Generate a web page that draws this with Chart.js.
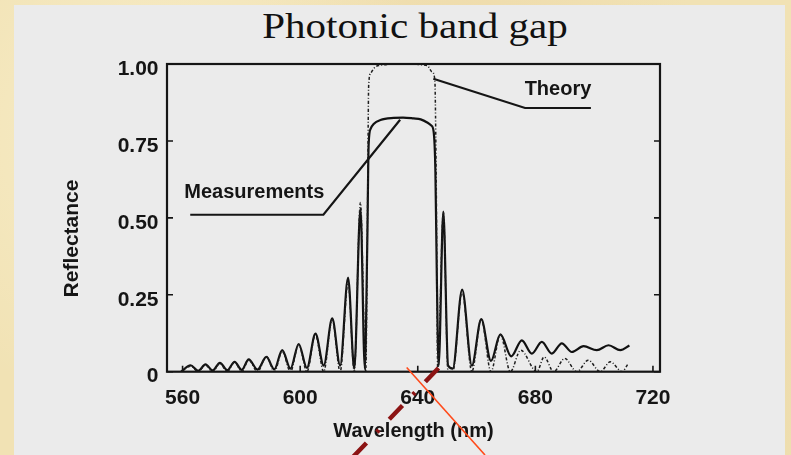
<!DOCTYPE html>
<html>
<head>
<meta charset="utf-8">
<script src="https://cdn.jsdelivr.net/npm/chart.js@4.4.0/dist/chart.umd.min.js"></script>
<style>
  html, body { margin: 0; padding: 0; }
  body {
    width: 791px; height: 455px; overflow: hidden; position: relative;
    background-color: #f1e2b4;
    background-image:
      radial-gradient(circle at 20% 30%, rgba(255,248,220,0.5) 0, rgba(255,248,220,0) 40%),
      radial-gradient(circle at 80% 70%, rgba(220,195,140,0.35) 0, rgba(220,195,140,0) 45%),
      radial-gradient(circle at 60% 10%, rgba(235,210,160,0.4) 0, rgba(235,210,160,0) 35%);
  }
  #panel {
    position: absolute; left: 14px; top: 5px; width: 771px; height: 460px;
    background: #ebebeb;
  }
  #title {
    position: absolute; left: 215px; top: 8px; width: 400px;
    text-align: center; font-family: "Liberation Serif", "DejaVu Serif", serif;
    font-size: 36px; line-height: 36px; color: #111;
    transform: scaleX(1.14); transform-origin: center;
  }
  canvas { position: absolute; left: 0; top: 0; }
</style>
</head>
<body>
<div id="panel"></div>
<div id="title">Photonic band gap</div>
<canvas id="bandChart" width="791" height="455"></canvas>
<script>
// Measured reflectance (solid line)
const measWavelength = [
  559.5, 562.7, 565.3, 567.8, 570.2, 572.7, 575.2, 577.7, 580.1, 582.5,
  585.5, 588.5, 591.2, 593.9, 596.7, 599.5, 602.3, 605.2, 608.0, 610.9,
  613.6, 616.3, 618.4, 620.5, 622.0, 622.8, 623.3, 624.0, 625.0, 627.3,
  631.8, 635.0, 638.6, 641.0, 643.2, 644.6, 645.4, 646.0, 646.5, 647.1,
  648.7, 650.3, 651.9, 655.1, 658.4, 661.6, 664.9, 668.1, 671.8, 675.4,
  678.8, 682.2, 685.6, 689.0, 692.4, 696.4, 700.9, 704.9, 708.9, 712.0
];
const measReflectance = [
  0.0, 0.021, 0.003, 0.024, 0.004, 0.029, 0.005, 0.032, 0.006, 0.040,
  0.007, 0.048, 0.008, 0.070, 0.010, 0.090, 0.012, 0.124, 0.020, 0.173,
  0.020, 0.306, 0.010, 0.530, 0.010, 0.400, 0.740, 0.790, 0.805, 0.818,
  0.825, 0.826, 0.823, 0.820, 0.810, 0.800, 0.780, 0.650, 0.300, 0.020,
  0.520, 0.020, 0.010, 0.267, 0.020, 0.171, 0.035, 0.121, 0.050, 0.102,
  0.059, 0.097, 0.059, 0.092, 0.064, 0.083, 0.070, 0.086, 0.070, 0.085
];

// Theoretical reflectance (dash-dot line)
const theoryWavelength = [
  559.5, 562.7, 565.3, 567.8, 570.2, 572.7, 575.2, 577.7, 580.1, 582.5,
  585.5, 588.5, 591.2, 593.9, 596.7, 599.5, 602.3, 605.2, 608.0, 610.9,
  613.6, 616.3, 618.4, 620.5, 622.3, 622.9, 623.3, 624.0, 625.0, 626.7,
  635.0, 643.2, 644.8, 645.8, 646.3, 646.8, 648.7, 650.3, 651.9, 655.1,
  658.4, 661.6, 664.9, 668.1, 671.5, 675.0, 680.5, 683.0, 686.2, 690.0,
  694.1, 698.0, 702.1, 705.5, 709.5, 711.5
];
const theoryReflectance = [
  0.0, 0.018, 0.0, 0.022, 0.0, 0.027, 0.0, 0.032, 0.0, 0.038,
  0.0, 0.050, 0.0, 0.066, 0.0, 0.088, 0.0, 0.120, 0.0, 0.170,
  0.0, 0.290, 0.0, 0.550, 0.0, 0.500, 0.930, 0.970, 0.985, 0.995,
  1.000, 0.995, 0.975, 0.950, 0.600, 0.0, 0.520, 0.0, 0.0, 0.260,
  0.0, 0.170, 0.0, 0.120, 0.0, 0.070, 0.0, 0.048, 0.0, 0.043,
  0.0, 0.037, 0.0, 0.032, 0.0, 0.025
];

const xTickValues = [560, 600, 640, 680, 720];
const yTickValues = [0, 0.25, 0.5, 0.75, 1.0];
const yTickLabels = ['0', '0.25', '0.50', '0.75', '1.00'];

const toPoints = (xs, ys) => xs.map((v, i) => ({ x: v, y: ys[i] }));

const ink = '#151515';
const sans = '"Liberation Sans", Arial, sans-serif';
const labelFont = { family: sans, size: 21, weight: 'bold' };

// frame, inward ticks, callouts, axis title and the slide's red strokes
const decor = {
  id: 'decor',
  afterDraw(chart) {
    const { ctx, chartArea: a, scales: { x, y } } = chart;
    ctx.save();
    ctx.strokeStyle = ink;
    ctx.lineWidth = 2.2;
    ctx.strokeRect(a.left, a.top, a.right - a.left, a.bottom - a.top);

    ctx.lineWidth = 1.6;
    ctx.beginPath();
    yTickValues.forEach(v => {
      const py = y.getPixelForValue(v);
      ctx.moveTo(a.left, py); ctx.lineTo(a.left + 6, py);
      ctx.moveTo(a.right, py); ctx.lineTo(a.right - 6, py);
    });
    xTickValues.forEach(v => {
      const px = x.getPixelForValue(v);
      ctx.moveTo(px, a.bottom); ctx.lineTo(px, a.bottom - 6);
    });
    ctx.stroke();

    // callouts
    ctx.lineWidth = 2.2;
    ctx.beginPath();
    ctx.moveTo(x.getPixelForValue(645.3), y.getPixelForValue(0.952));
    ctx.lineTo(x.getPixelForValue(676.5), y.getPixelForValue(0.857));
    ctx.lineTo(x.getPixelForValue(698.9), y.getPixelForValue(0.857));
    ctx.moveTo(x.getPixelForValue(634.0), y.getPixelForValue(0.819));
    ctx.lineTo(x.getPixelForValue(607.9), y.getPixelForValue(0.510));
    ctx.lineTo(x.getPixelForValue(562.6), y.getPixelForValue(0.510));
    ctx.stroke();

    ctx.fillStyle = ink;
    ctx.font = 'bold 20px ' + sans;
    ctx.textAlign = 'center';
    ctx.textBaseline = 'middle';
    ctx.fillText('Theory', x.getPixelForValue(687.7), y.getPixelForValue(0.918));
    ctx.fillText('Measurements', x.getPixelForValue(584.4), y.getPixelForValue(0.583));

    ctx.save();
    ctx.translate(72.5, 238.5);
    ctx.rotate(-Math.PI / 2);
    ctx.font = 'bold 21px ' + sans;
    ctx.fillText('Reflectance', 0, 0);
    ctx.restore();

    // red strokes drawn over the figure on the slide
    ctx.strokeStyle = '#8c1414';
    ctx.lineWidth = 4.5;
    ctx.setLineDash([19, 15, 3, 15]);
    ctx.beginPath();
    ctx.moveTo(438.5, 368);
    ctx.lineTo(352, 458);
    ctx.stroke();

    ctx.setLineDash([]);
    ctx.strokeStyle = '#ff4a1a';
    ctx.lineWidth = 1.6;
    ctx.beginPath();
    ctx.moveTo(406.7, 367.5);
    ctx.lineTo(485, 455);
    ctx.stroke();
    ctx.restore();
  }
};

new Chart(document.getElementById('bandChart').getContext('2d'), {
  type: 'line',
  data: {
    datasets: [
      {
        label: 'Theory',
        data: toPoints(theoryWavelength, theoryReflectance),
        borderColor: '#1e1e1e',
        borderWidth: 1.5,
        borderDash: [3, 2, 1, 2],
        pointRadius: 0,
        cubicInterpolationMode: 'monotone',
        fill: false
      },
      {
        label: 'Measurements',
        data: toPoints(measWavelength, measReflectance),
        borderColor: '#111',
        borderWidth: 2.2,
        pointRadius: 0,
        cubicInterpolationMode: 'monotone',
        fill: false
      }
    ]
  },
  options: {
    responsive: false,
    animation: false,
    events: [],
    layout: { padding: { top: 64, right: 131, bottom: 0, left: 0 } },
    plugins: {
      legend: { display: false },
      tooltip: { enabled: false }
    },
    scales: {
      x: {
        type: 'linear',
        min: 554.7,
        max: 722.4,
        grid: { display: false, drawTicks: false },
        border: { display: false },
        afterBuildTicks: s => { s.ticks = xTickValues.map(v => ({ value: v })); },
        afterFit: s => { s.height = 83.3; },
        ticks: { color: ink, font: labelFont, padding: 14, maxRotation: 0 },
        title: {
          display: true,
          text: 'Wavelength (nm)',
          color: ink,
          font: { family: sans, size: 20, weight: 'bold' },
          padding: { top: 0, bottom: 12 }
        }
      },
      y: {
        min: 0,
        max: 1,
        grid: { display: false, drawTicks: false },
        border: { display: false },
        afterBuildTicks: s => { s.ticks = yTickValues.map(v => ({ value: v })); },
        afterFit: s => { s.width = 167; },
        ticks: {
          color: ink,
          font: labelFont,
          padding: 8.5,
          labelOffset: 5,
          callback: v => yTickLabels[yTickValues.indexOf(v)]
        }
      }
    }
  },
  plugins: [decor]
});
</script>
</body>
</html>
